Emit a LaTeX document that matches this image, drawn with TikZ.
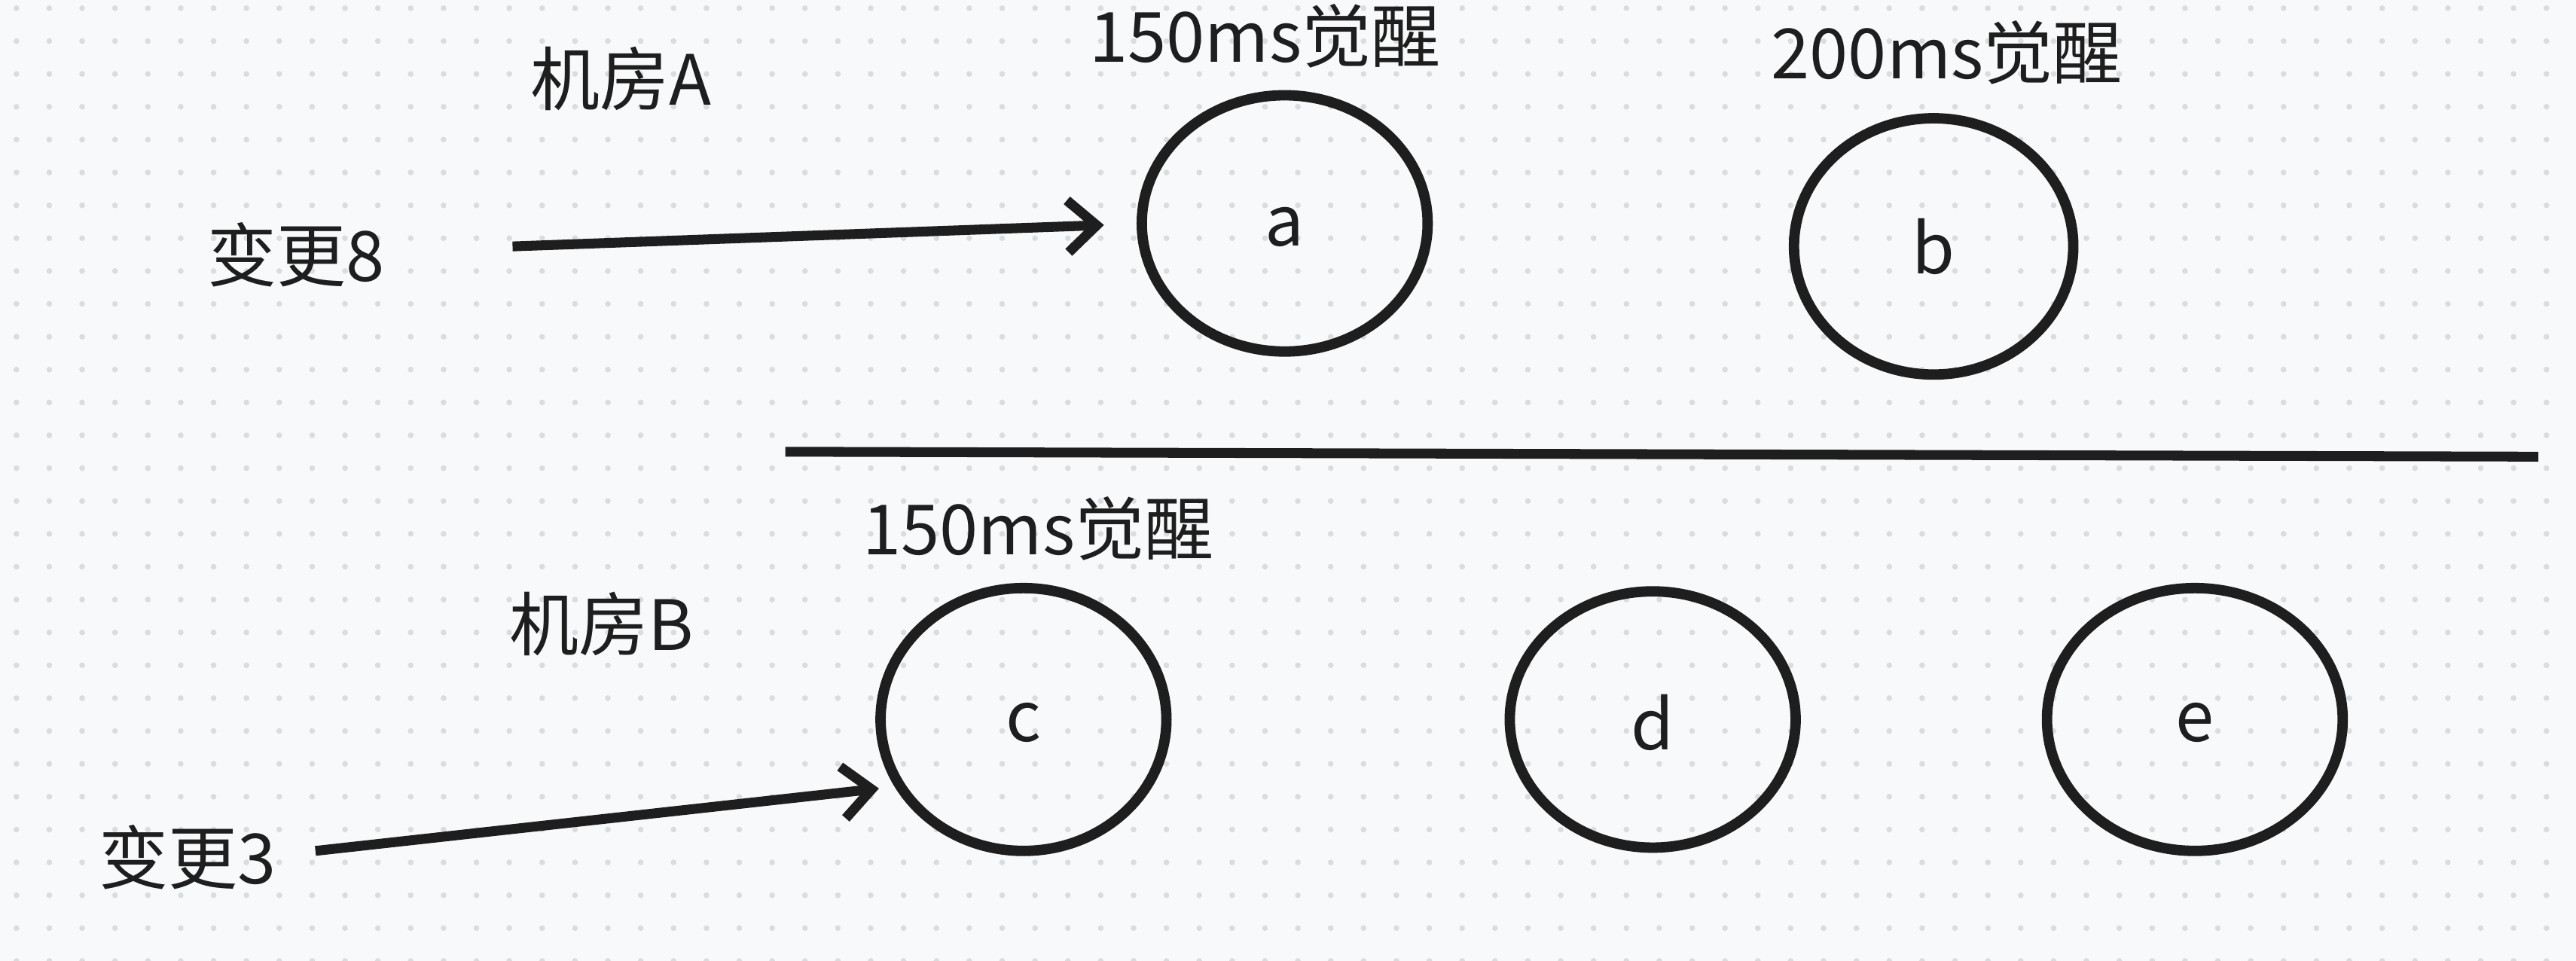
\documentclass[tikz,border=0pt]{standalone}
\usepackage{fontspec}
\setmainfont{Noto Sans CJK SC}
\usetikzlibrary{arrows.meta}
\definecolor{bg}{HTML}{F8F9FA}
\definecolor{dotc}{HTML}{DADDE0}
\definecolor{ink}{HTML}{1E1E1E}
\begin{document}
\begin{tikzpicture}[x=0.01cm,y=-0.01cm,
  lbl/.style={font=\fontsize{12}{14}\selectfont,text=ink},
  conn/.style={draw=ink,line width=1.7pt,-{Straight Barb[length=5pt,width=9pt]}}]
\fill[bg] (0,0) rectangle (1568,585);
\useasboundingbox (0,0) rectangle (1568,585);
\foreach \i in {0,...,77} \foreach \j in {0,...,29}
  \fill[dotc] (10+\i*20,5+\j*20) circle (0.5pt);
\draw[ink,line width=1.7pt] (478,275) -- (1545,278);
\draw[ink,line width=1.8pt] (782,136) ellipse [x radius=87,y radius=78];
\draw[ink,line width=1.8pt] (1177,150) ellipse [x radius=85,y radius=78];
\draw[ink,line width=1.8pt] (623,438) ellipse [x radius=87,y radius=80];
\draw[ink,line width=1.8pt] (1006,438) ellipse [x radius=87,y radius=78];
\draw[ink,line width=1.8pt] (1336,438) ellipse [x radius=90,y radius=80];
\node[lbl] (a) at (782,138) {a};
\node[lbl] (b) at (1177,150) {b};
\node[lbl] (c) at (623,440) {c};
\node[lbl] (d) at (1006,440) {d};
\node[lbl] (e) at (1336,440) {e};
\coordinate (a1) at (312,150); \coordinate (a2) at (672,137);
\coordinate (c1) at (192,518); \coordinate (c2) at (535,480);
\draw[conn] (a1) -- (a2);
\draw[conn] (c1) -- (c2);
\node[lbl] (ra) at (378,48) {机房A};
\node[lbl] (ta) at (770,22) {150ms觉醒};
\node[lbl] (tb) at (1185,32) {200ms觉醒};
\node[lbl] (v8) at (180,155) {变更8};
\node[lbl] (tc) at (632,322) {150ms觉醒};
\node[lbl] (rb) at (366,380) {机房B};
\node[lbl] (v3) at (114,522) {变更3};
\end{tikzpicture}
\end{document}
